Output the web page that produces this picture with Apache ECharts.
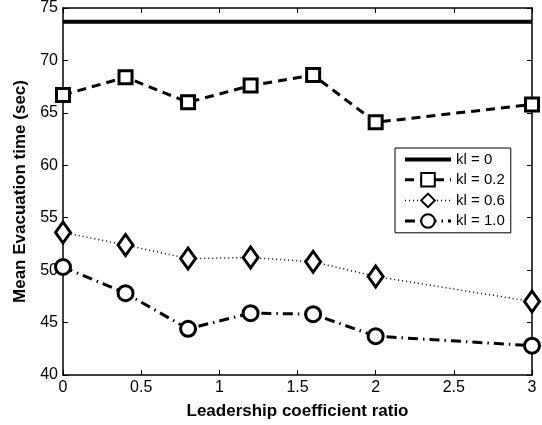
<!DOCTYPE html>
<html><head><meta charset="utf-8">
<script src="https://cdn.jsdelivr.net/npm/echarts@6/dist/echarts.min.js"></script>
<style>html,body{margin:0;padding:0;background:#fff}#c{width:542px;height:425px}</style>
</head><body><div id="c"></div>
<script>
const ratios = [0, 0.4, 0.8, 1.2, 1.6, 2, 3];
const kl0 = [73.7, 73.7];
const kl0x = [0, 3];
const kl02 = [66.7, 68.4, 66.0, 67.6, 68.6, 64.1, 65.8];
const kl06 = [53.6, 52.4, 51.1, 51.2, 50.8, 49.4, 47.0];
const kl10 = [50.3, 47.8, 44.4, 45.9, 45.8, 43.7, 42.8];
const seriesNames = ['kl = 0', 'kl = 0.2', 'kl = 0.6', 'kl = 1.0'];

const pair = (xs, ys) => xs.map((x, i) => [x, ys[i]]);
const font = 'Liberation Sans, Arial, Helvetica, sans-serif';
const chart = echarts.init(document.getElementById('c'), null, {renderer: 'canvas'});
const axLine = {show: true, onZero: false, lineStyle: {color: '#000', width: 1.5}};
const tick = {show: true, inside: true, length: 5, lineStyle: {color: '#000', width: 1}};
const mk = {color: '#fff', borderColor: '#000', borderWidth: 3};
const xBase = {type: 'value', min: 0, max: 3, interval: 0.5};
const yBase = {type: 'value', min: 40, max: 75, interval: 5};
const bare = {axisLine: axLine, axisTick: tick, axisLabel: {show: false}, splitLine: {show: false}};
chart.setOption({
  animation: false,
  backgroundColor: '#fff',
  textStyle: {fontFamily: font},
  grid: {left: 63, right: 10, top: 6, bottom: 50},
  xAxis: [Object.assign({}, xBase, {
    position: 'bottom',
    axisLine: {show: false}, axisTick: {show: false},
    splitLine: {show: false},
    axisLabel: {color: '#000', fontSize: 16, margin: 5, fontFamily: font},
    name: 'Leadership coefficient ratio', nameLocation: 'middle', nameGap: 28,
    nameTextStyle: {color: '#000', fontSize: 17, fontWeight: 'bold', fontFamily: font}
  }),
  Object.assign({}, xBase, bare, {position: 'top'}),
  Object.assign({}, xBase, bare, {position: 'bottom'})],
  yAxis: [Object.assign({}, yBase, {
    position: 'left',
    axisLine: {show: false}, axisTick: {show: false},
    splitLine: {show: false},
    axisLabel: {color: '#000', fontSize: 16, margin: 5, fontFamily: font},
    name: 'Mean Evacuation time (sec)', nameLocation: 'middle', nameGap: 28,
    nameTextStyle: {color: '#000', fontSize: 17, fontWeight: 'bold', fontFamily: font}
  }),
  Object.assign({}, yBase, bare, {position: 'right'}),
  Object.assign({}, yBase, bare, {position: 'left'})],
  legend: {
    orient: 'vertical', left: 395, top: 148,
    backgroundColor: '#fff', borderColor: '#000', borderWidth: 1,
    padding: [4, 6, 4, 8], itemGap: 5, itemWidth: 46, itemHeight: 17,
    textStyle: {color: '#000', fontSize: 15, fontFamily: font},
    data: [
      {name: seriesNames[0], itemStyle: {opacity: 0}, lineStyle: {width: 4}},
      {name: seriesNames[1], lineStyle: {width: 3}},
      {name: seriesNames[2], lineStyle: {width: 1.5}},
      {name: seriesNames[3], lineStyle: {width: 3}}
    ]
  },
  series: [
    {name: seriesNames[0], type: 'line', data: pair(kl0x, kl0), symbol: 'none',
     lineStyle: {color: '#000', width: 4, type: 'solid'}, itemStyle: {color: '#000'}},
    {name: seriesNames[1], type: 'line', data: pair(ratios, kl02), symbol: 'rect', symbolSize: 13,
     lineStyle: {color: '#000', width: 3, type: [9, 6]}, itemStyle: mk},
    {name: seriesNames[2], type: 'line', data: pair(ratios, kl06), symbol: 'diamond', symbolSize: [15, 21],
     lineStyle: {color: '#000', width: 1.5, type: [1, 3]}, itemStyle: mk},
    {name: seriesNames[3], type: 'line', data: pair(ratios, kl10), symbol: 'circle', symbolSize: 15,
     lineStyle: {color: '#000', width: 3, type: [10, 5, 1.5, 5]}, itemStyle: mk}
  ]
});
</script></body></html>
